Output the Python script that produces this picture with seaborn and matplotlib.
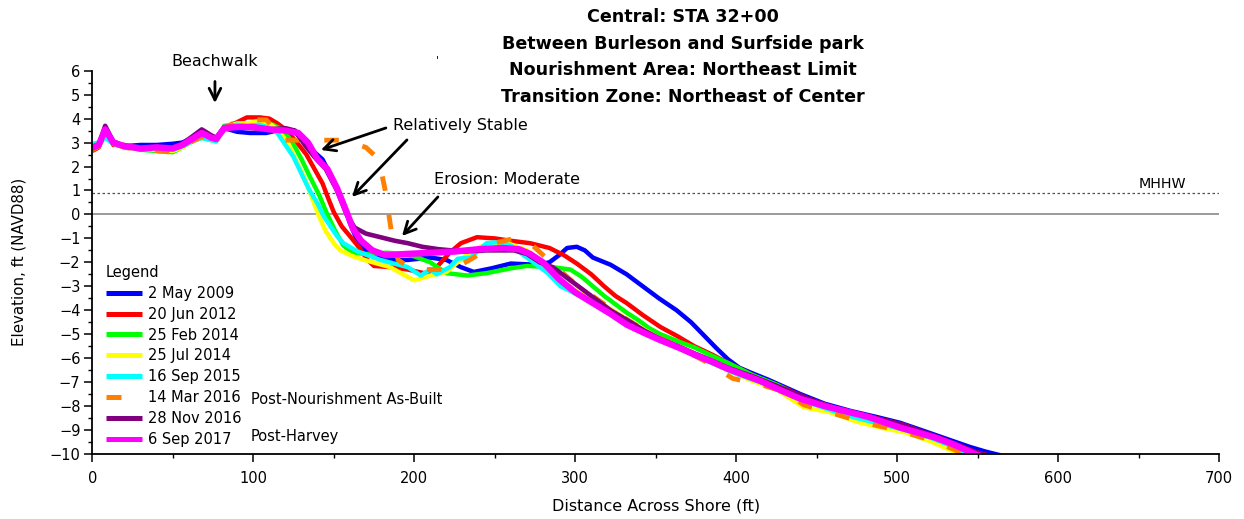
import matplotlib
matplotlib.use("Agg")
import matplotlib.pyplot as plt
import numpy as np
import pandas as pd
import seaborn as sns
from matplotlib.ticker import MultipleLocator

# ---- survey profiles: distance across shore (ft) and elevation (ft NAVD88) ----
dist_may2009 = [0, 4, 8, 13, 20, 30, 40, 50, 56, 62, 68, 74, 77, 82, 90, 98, 108, 118, 125, 132,
                138, 143, 150, 156, 160, 164, 169, 179, 188, 196, 210, 220, 229, 237, 248, 260,
                276, 284, 290, 295, 301, 306, 311, 322, 332, 342, 352, 363, 372, 380, 388, 395,
                402, 409, 420, 440, 455, 471, 487, 502, 515, 530, 545, 555, 564]
elev_may2009 = [2.8, 2.9, 3.4, 2.95, 2.85, 2.9, 2.9, 2.95, 3.0, 3.2, 3.35, 3.15, 3.15, 3.6, 3.45,
                3.4, 3.4, 3.55, 3.5, 3.0, 2.6, 2.3, 1.4, 0.5, -0.35, -1.0, -1.45, -1.8, -1.9,
                -1.9, -1.8, -1.9, -2.2, -2.4, -2.25, -2.05, -2.1, -2.0, -1.7, -1.4, -1.35, -1.5,
                -1.8, -2.1, -2.5, -3.0, -3.5, -4.0, -4.5, -5.05, -5.6, -6.05, -6.4, -6.6, -6.9,
                -7.5, -7.9, -8.2, -8.45, -8.7, -9.0, -9.35, -9.7, -9.9, -10.05]

dist_jun2012 = [0, 4, 8, 13, 20, 30, 40, 50, 56, 62, 68, 74, 77, 82, 90, 96, 104, 110, 115, 119,
                126, 133, 138, 143, 147, 150, 155, 160, 166, 171, 175, 185, 196, 206, 211, 216,
                222, 229, 239, 250, 260, 272, 284, 293, 301, 310, 318, 325, 332, 342, 353, 364,
                374, 385, 395, 413, 430, 445, 460, 475, 490, 505, 520, 535, 548, 556]
elev_jun2012 = [2.65, 2.8, 3.5, 2.9, 2.9, 2.75, 2.7, 2.7, 2.85, 3.1, 3.3, 3.15, 3.1, 3.6, 3.85,
                4.05, 4.05, 4.0, 3.8, 3.6, 3.1, 2.5, 1.9, 1.3, 0.6, 0.1, -0.5, -0.9, -1.4, -1.9,
                -2.15, -2.2, -2.3, -2.45, -2.4, -2.05, -1.6, -1.2, -0.95, -1.0, -1.1, -1.2, -1.4,
                -1.7, -2.05, -2.5, -3.0, -3.4, -3.7, -4.2, -4.7, -5.1, -5.5, -5.85, -6.2, -6.8,
                -7.25, -7.7, -8.05, -8.3, -8.55, -8.8, -9.2, -9.55, -9.9, -10.05]

dist_feb2014 = [0, 4, 8, 13, 20, 30, 40, 50, 56, 62, 68, 74, 77, 82, 90, 96, 104, 112, 118, 124,
                130, 135, 141, 146, 151, 156, 162, 170, 183, 193, 200, 210, 220, 233, 245, 260,
                270, 286, 297, 304, 311, 318, 324, 332, 339, 346, 353, 364, 374, 385, 395, 410,
                425, 440, 455, 470, 487, 502, 515, 528, 540, 546]
elev_feb2014 = [2.7, 2.85, 3.3, 2.95, 2.85, 2.7, 2.65, 2.6, 2.8, 3.05, 3.2, 3.1, 3.05, 3.7, 3.75,
                3.75, 3.8, 3.75, 3.55, 3.05, 2.3, 1.6, 0.8, 0.0, -0.7, -1.3, -1.6, -1.65, -1.6,
                -1.65, -1.75, -2.0, -2.45, -2.55, -2.45, -2.25, -2.15, -2.2, -2.3, -2.6, -3.0,
                -3.4, -3.7, -4.1, -4.4, -4.75, -5.0, -5.3, -5.55, -5.9, -6.2, -6.7, -7.1, -7.6,
                -7.95, -8.25, -8.55, -8.8, -9.1, -9.45, -9.85, -10.05]

dist_jul2014 = [0, 4, 8, 13, 20, 30, 40, 50, 56, 62, 68, 74, 77, 82, 90, 96, 104, 110, 116, 122,
                127, 132, 137, 141, 145, 150, 154, 162, 169, 177, 185, 193, 200, 210, 220, 227,
                233, 241, 249, 260, 270, 280, 291, 303, 316, 328, 340, 353, 364, 374, 385, 398,
                410, 425, 442, 458, 475, 490, 505, 520, 532, 540]
elev_jul2014 = [2.75, 2.85, 3.3, 2.95, 2.8, 2.75, 2.7, 2.65, 2.8, 3.05, 3.25, 3.1, 3.05, 3.65, 3.8,
                3.8, 3.9, 3.8, 3.5, 2.9, 2.2, 1.5, 0.6, -0.1, -0.7, -1.2, -1.5, -1.75, -1.9,
                -2.05, -2.2, -2.5, -2.75, -2.55, -2.4, -2.0, -1.65, -1.35, -1.2, -1.25, -1.5,
                -2.0, -2.75, -3.3, -3.7, -4.2, -4.7, -5.2, -5.5, -5.8, -6.2, -6.6, -6.95, -7.3,
                -8.05, -8.25, -8.65, -8.9, -9.1, -9.45, -9.8, -10.05]

dist_sep2015 = [0, 4, 8, 13, 20, 30, 40, 50, 56, 62, 68, 74, 77, 82, 90, 96, 104, 110, 115, 120,
                125, 131, 135, 140, 144, 148, 152, 156, 165, 179, 196, 204, 210, 214, 222, 227,
                235, 240, 245, 253, 260, 270, 283, 291, 303, 316, 330, 343, 356, 370, 385, 400,
                415, 430, 445, 460, 475, 490, 505, 520, 535, 545]
elev_sep2015 = [2.95, 3.0, 3.2, 2.95, 2.85, 2.8, 2.75, 2.7, 2.85, 3.05, 3.2, 3.1, 3.05, 3.65, 3.75,
                3.7, 3.75, 3.6, 3.4, 2.9, 2.4, 1.55, 1.0, 0.45, -0.1, -0.5, -0.9, -1.2, -1.55,
                -1.9, -2.2, -2.55, -2.3, -2.5, -2.2, -1.85, -1.8, -1.5, -1.2, -1.15, -1.3, -1.8,
                -2.45, -3.0, -3.4, -3.9, -4.45, -4.9, -5.35, -5.75, -6.2, -6.65, -7.0, -7.4,
                -7.85, -8.2, -8.5, -8.75, -9.0, -9.3, -9.7, -10.05]

dist_mar2016 = [0, 4, 8, 13, 20, 30, 40, 50, 56, 62, 68, 74, 77, 82, 90, 94, 108, 113, 117, 155,
                170, 178, 182, 186, 190, 199, 224, 237, 250, 262, 272, 285, 300, 315, 330, 345,
                360, 380, 398, 415, 430, 442, 460, 480, 500, 520, 535, 542]
elev_mar2016 = [2.7, 2.85, 3.4, 2.95, 2.8, 2.7, 2.65, 2.6, 2.8, 3.05, 3.25, 3.1, 3.05, 3.6, 3.9,
                3.95, 3.95, 3.6, 3.1, 3.1, 2.8, 2.3, 1.0, -0.8, -1.9, -2.3, -2.3, -1.8, -1.2,
                -1.0, -1.2, -2.0, -2.9, -3.6, -4.3, -4.9, -5.4, -6.1, -6.85, -7.1, -7.4, -7.95,
                -8.3, -8.7, -9.0, -9.4, -9.8, -10.05]

dist_nov2016 = [0, 4, 8, 13, 20, 30, 40, 50, 56, 62, 68, 74, 77, 82, 90, 100, 110, 120, 126, 132,
                138, 145, 152, 158, 163, 170, 179, 188, 196, 205, 215, 231, 245, 262, 270, 278,
                286, 297, 311, 322, 332, 343, 353, 364, 374, 385, 395, 410, 425, 440, 455, 471,
                487, 502, 515, 530, 545, 555]
elev_nov2016 = [2.75, 2.9, 3.7, 3.05, 2.85, 2.8, 2.8, 2.8, 2.95, 3.25, 3.55, 3.3, 3.2, 3.65, 3.65,
                3.6, 3.55, 3.6, 3.5, 2.9, 2.4, 1.9, 1.0, 0.0, -0.55, -0.8, -0.95, -1.1, -1.2,
                -1.35, -1.45, -1.55, -1.5, -1.5, -1.65, -2.0, -2.2, -2.75, -3.45, -4.0, -4.4,
                -4.85, -5.2, -5.5, -5.8, -6.1, -6.4, -6.75, -7.15, -7.55, -7.95, -8.25, -8.5,
                -8.75, -9.05, -9.4, -9.85, -10.05]

dist_sep2017 = [0, 4, 8, 13, 20, 30, 40, 50, 56, 62, 68, 74, 77, 82, 90, 100, 110, 120, 128, 134,
                140, 146, 152, 158, 162, 167, 174, 182, 195, 210, 225, 240, 255, 265, 272, 280,
                290, 300, 311, 322, 332, 343, 353, 364, 374, 385, 395, 405, 415, 428, 440, 455,
                470, 482, 502, 523, 535, 545, 552]
elev_sep2017 = [2.8, 2.9, 3.55, 3.0, 2.85, 2.75, 2.8, 2.75, 2.9, 3.15, 3.4, 3.2, 3.15, 3.6, 3.65,
                3.65, 3.55, 3.5, 3.4, 3.0, 2.3, 1.9, 1.1, 0.1, -0.6, -1.1, -1.5, -1.7, -1.65,
                -1.6, -1.55, -1.45, -1.4, -1.45, -1.65, -2.0, -2.7, -3.25, -3.7, -4.15, -4.6,
                -4.95, -5.25, -5.55, -5.85, -6.15, -6.45, -6.7, -6.95, -7.35, -7.7, -8.0, -8.25,
                -8.45, -8.9, -9.3, -9.6, -9.9, -10.1]

labels = ["2 May 2009", "20 Jun 2012", "25 Feb 2014", "25 Jul 2014",
          "16 Sep 2015", "14 Mar 2016", "28 Nov 2016", "6 Sep 2017"]
distances = [dist_may2009, dist_jun2012, dist_feb2014, dist_jul2014,
             dist_sep2015, dist_mar2016, dist_nov2016, dist_sep2017]
elevations = [elev_may2009, elev_jun2012, elev_feb2014, elev_jul2014,
              elev_sep2015, elev_mar2016, elev_nov2016, elev_sep2017]
colors = ["#0000FF", "#FF0000", "#00FF00", "#FFFF00",
          "#00FFFF", "#FF8000", "#800080", "#FF00FF"]
widths = [3.2, 3.2, 3.2, 3.2, 3.2, 3.5, 3.3, 4.6]
styles = ["-", "-", "-", "-", "-", (0, (3.0, 5.0)), "-", "-"]

mhhw = 0.91
title_lines = ["Central: STA 32+00", "Between Burleson and Surfside park",
               "Nourishment Area: Northeast Limit", "Transition Zone: Northeast of Center"]

# ---- figure ----
sns.set_theme(style="ticks")
plt.rcParams["font.family"] = ["DejaVu Sans"]
plt.rcParams["axes.linewidth"] = 1.3
plt.rcParams["text.color"] = "black"
plt.rcParams["axes.labelcolor"] = "black"
plt.rcParams["xtick.color"] = "black"
plt.rcParams["ytick.color"] = "black"
plt.rcParams["axes.edgecolor"] = "black"

W, H = 1244, 519
fig = plt.figure(figsize=(W / 100, H / 100), dpi=100)
ax = fig.add_axes([92.3 / W, 1 - 454 / H, (1219 - 92.3) / W, (454 - 70.7) / H])

ax.axhline(0, color="#808080", lw=1.1, zorder=1)
ax.axhline(mhhw, color="#505050", lw=0.9, ls=(0, (2, 2)), zorder=1)

for lab, d, e, c, lw, ls in zip(labels, distances, elevations, colors, widths, styles):
    df = pd.DataFrame({"Distance": d, "Elevation": e})
    sns.lineplot(data=df, x="Distance", y="Elevation", ax=ax, sort=False,
                 estimator=None, color=c, lw=lw, linestyle=ls, label=lab,
                 solid_joinstyle="round", solid_capstyle="butt", dash_capstyle="butt")

ax.set_xlim(0, 700)
ax.set_ylim(-10, 6)
ax.xaxis.set_major_locator(MultipleLocator(100))
ax.xaxis.set_minor_locator(MultipleLocator(50))
ax.yaxis.set_major_locator(MultipleLocator(1))
ax.yaxis.set_minor_locator(MultipleLocator(0.5))
ax.tick_params(axis="both", which="major", direction="out", length=5.5, width=1.1,
               labelsize=10.5, color="black", labelcolor="black")
ax.tick_params(axis="both", which="minor", direction="out", length=3, width=1.0, color="black")
ax.tick_params(axis="x", pad=7)
ax.tick_params(axis="y", pad=3)
for s in ["top", "right"]:
    ax.spines[s].set_visible(False)
for s in ["left", "bottom"]:
    ax.spines[s].set_color("black")

ax.set_xlabel("Distance Across Shore (ft)", fontsize=11.5, labelpad=9, color="black")
ax.set_ylabel("Elevation, ft (NAVD88)", fontsize=10.8, labelpad=17, color="black")

# MHHW label
ax.text(665, mhhw + 0.05, "MHHW", fontsize=10.3, ha="center", va="bottom")

# title block
fig.text(683 / W, 1 - 57 / H, "\n".join(title_lines), ha="center", va="center",
         fontsize=12.6, fontweight="bold", linespacing=1.6)
fig.text(437 / W, 1 - 60 / H, "'", ha="center", va="center", fontsize=8)

# annotations
arrow = dict(arrowstyle="->,head_length=0.7,head_width=0.35", lw=2.0, color="black",
             shrinkA=0, shrinkB=0)
ax.text(76, 6.4, "Beachwalk", fontsize=11.5, ha="center", va="center", clip_on=False)
ax.annotate("", xy=(76.2, 4.65), xytext=(76.2, 5.55), arrowprops=arrow, annotation_clip=False)
ax.text(187, 3.72, "Relatively Stable", fontsize=11.5, ha="left", va="center")
ax.annotate("", xy=(142, 2.69), xytext=(182.4, 3.61), arrowprops=arrow)
ax.annotate("", xy=(161.3, 0.73), xytext=(195.5, 3.11), arrowprops=arrow)
ax.text(212.2, 1.46, "Erosion: Moderate", fontsize=11.5, ha="left", va="center")
ax.annotate("", xy=(192.4, -0.9), xytext=(214.7, 0.73), arrowprops=arrow)

# legend
handles, labs = ax.get_legend_handles_labels()
leg = ax.legend(handles, labs, title="Legend", loc="upper left",
                bbox_to_anchor=(106 / W, 1 - 265 / H), bbox_transform=fig.transFigure,
                frameon=False, fontsize=10.5, title_fontsize=10.5, borderpad=0,
                borderaxespad=0, handlelength=2.45, handletextpad=0.42,
                labelspacing=0.4, alignment="left")
for h in leg.legend_handles:
    h.set_linewidth(3.6)
fig.text(251 / W, 1 - 399 / H, "Post-Nourishment As-Built", fontsize=10.5, ha="left", va="center")
fig.text(251 / W, 1 - 436 / H, "Post-Harvey", fontsize=10.5, ha="left", va="center")

fig.savefig("out.png", dpi=100)
